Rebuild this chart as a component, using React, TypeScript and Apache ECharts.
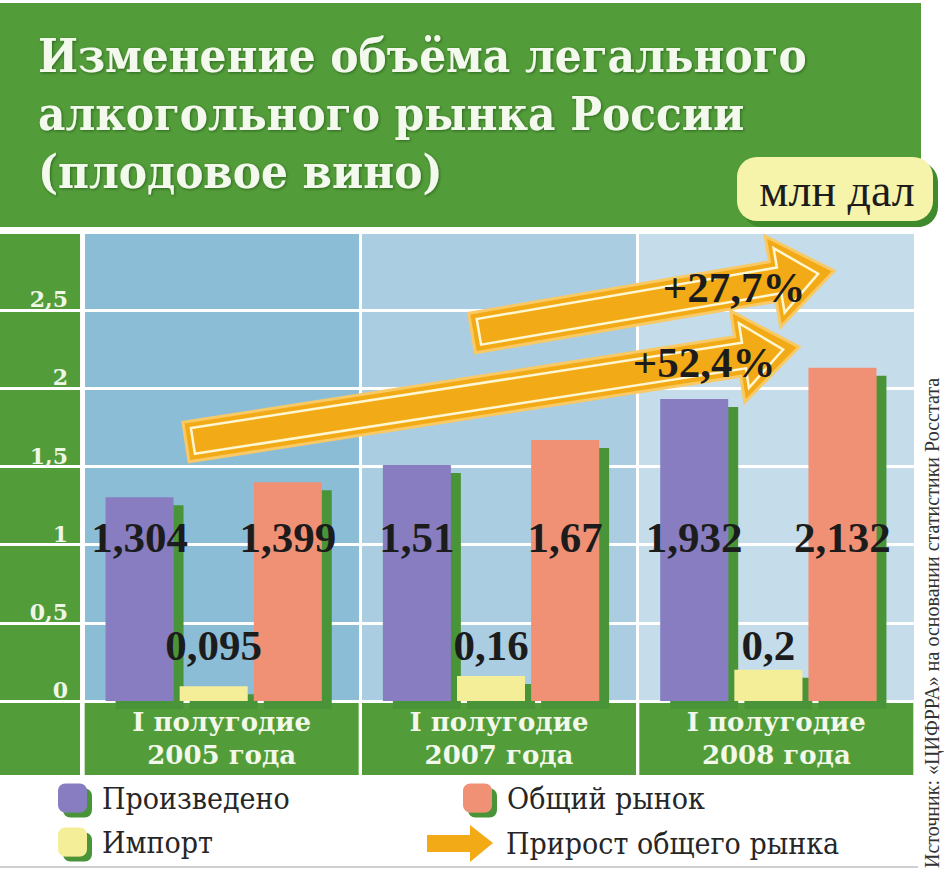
import React, { useEffect, useRef } from "react";
import * as echarts from "echarts";

const categories = ["I полугодие\n2005 года", "I полугодие\n2007 года", "I полугодие\n2008 года"];
const produced = [1.304, 1.51, 1.932];
const imported = [0.095, 0.16, 0.2];
const total = [1.399, 1.67, 2.132];
const growthLabels = ["+27,7%", "+52,4%"];
const seriesNames = ["Произведено", "Импорт", "Общий рынок", "Прирост общего рынка"];
const titleText = "Изменение объёма легального\nалкогольного рынка России\n(плодовое вино)";
const unitText = "млн дал";
const sourceText = "Источник: «ЦИФРРА» на основании статистики Росстата";

const GREEN = "#529d39";
const SHADOW_GREEN = "#4a9439";
const PURPLE = "#877dc0";
const YELLOW = "#f5ee98";
const ORANGE = "#f09176";
const ARROW = "#f2ab16";
const COND = "'DejaVu Serif Condensed', 'DejaVu Serif', serif";
const SERIF = "'DejaVu Serif', serif";
const TIMES = "'Liberation Serif', serif";

const fmt = (v: number) => String(v).replace(".", ",");

function arrowPts(tx: number, ty: number, px: number, py: number, sh: number, hh: number, hl: number, inset = 0) {
  const dx = px - tx, dy = py - ty;
  const L = Math.hypot(dx, dy);
  const ux = dx / L, uy = dy / L;
  const nx = -uy, ny = ux;
  const t0x = tx + ux * inset, t0y = ty + uy * inset;
  const bx = px - ux * hl + ux * inset * 0.9, by = py - uy * hl + uy * inset * 0.9;
  const tipx = px - ux * inset * 2.3, tipy = py - uy * inset * 2.3;
  const s = sh - inset, h = hh - inset * 1.9;
  return [
    [t0x + nx * s, t0y + ny * s],
    [bx + nx * s, by + ny * s],
    [bx + nx * h, by + ny * h],
    [tipx, tipy],
    [bx - nx * h, by - ny * h],
    [bx - nx * s, by - ny * s],
    [t0x - nx * s, t0y - ny * s],
  ];
}

function arrowElements(tx: number, ty: number, px: number, py: number) {
  return [
    {
      type: "polygon",
      z: 5,
      shape: { points: arrowPts(tx, ty, px, py, 20, 46, 62) },
      style: { fill: ARROW, stroke: "#f8c964", lineWidth: 3 },
    },
    {
      type: "polygon",
      z: 6,
      shape: { points: arrowPts(tx, ty, px, py, 20, 46, 62, 7) },
      style: { fill: "none", stroke: "#fff6d2", lineWidth: 2.5 },
    },
  ];
}

export default function App() {
  const ref = useRef<HTMLDivElement>(null);

  useEffect(() => {
    if (!ref.current) return;
    const chart = echarts.init(ref.current, null, { renderer: "svg" });

    const barLabel = (distance: number) => ({
      show: true,
      position: "insideBottom",
      distance,
      formatter: (p: any) => fmt(p.value),
      fontFamily: TIMES,
      fontWeight: "bold",
      fontSize: 43,
      color: "#1c1c1c",
      textBorderWidth: 0,
    });
    const barStyle = (color: string) => ({
      color,
      shadowColor: SHADOW_GREEN,
      shadowOffsetX: 10,
      shadowOffsetY: 8,
      shadowBlur: 0,
    });

    const legendText = { fontFamily: COND, fontSize: 30, color: "#262626", lineHeight: 29, padding: [0, 0, 0, 10] };
    const legendSquare = (left: number, top: number, name: string) => ({
      orient: "vertical",
      selectedMode: false,
      left,
      top,
      itemWidth: 29,
      itemHeight: 29,
      padding: 0,
      textStyle: legendText,
      itemStyle: { shadowColor: SHADOW_GREEN, shadowOffsetX: 5, shadowOffsetY: 5, shadowBlur: 0 },
      data: [name],
    });

    chart.setOption({
      animation: false,
      backgroundColor: "#ffffff",
      title: {
        text: titleText,
        left: 38,
        top: 26,
        padding: 0,
        textStyle: {
          fontFamily: COND,
          fontWeight: "bold",
          fontSize: 47,
          lineHeight: 58,
          color: "#f4f9ee",
          textShadowColor: "rgba(0,40,0,0.45)",
          textShadowBlur: 3,
          textShadowOffsetX: 1,
          textShadowOffsetY: 1,
        },
      },
      legend: [
        legendSquare(58, 783, seriesNames[0]),
        legendSquare(58, 827, seriesNames[1]),
        legendSquare(463, 783, seriesNames[2]),
        {
          orient: "vertical",
          selectedMode: false,
          left: 427,
          top: 825,
          itemWidth: 66,
          itemHeight: 37,
          padding: 0,
          textStyle: { ...legendText, lineHeight: 37, padding: [0, 0, 0, 8] },
          data: [
            {
              name: seriesNames[3],
              icon: "path://M0,10 L43,10 L43,0 L66,18 L43,37 L43,27 L0,27 Z",
              itemStyle: { color: ARROW, shadowBlur: 0, shadowOffsetX: 0, shadowOffsetY: 0 },
            },
          ],
        },
      ],
      grid: [
        { left: 0, right: 29, top: 232, bottom: 171 },
        { left: 83, right: 29, top: 232, bottom: 171 },
        { left: 75, right: 37, top: 232, bottom: 171 },
      ],
      xAxis: [
        { gridIndex: 0, type: "value", min: 0, max: 1, show: false },
        {
          gridIndex: 1,
          type: "category",
          data: categories,
          z: 0,
          axisLine: { show: false },
          axisTick: { show: false },
          splitArea: { show: true, interval: 0, areaStyle: { color: ["#8cbdd7", "#aacde1", "#c5ddeb"] } },
          splitLine: { show: true, interval: 0, lineStyle: { color: "#ffffff", width: 3 } },
          axisLabel: {
            interval: 0,
            margin: 2,
            fontFamily: SERIF,
            fontWeight: "bold",
            fontSize: 26,
            lineHeight: 33,
            color: "#f2f8ea",
            backgroundColor: GREEN,
            width: 274,
            align: "center",
            padding: [2, 0, 4, 0],
          },
        },
        { gridIndex: 2, type: "category", data: categories, show: false },
      ],
      yAxis: [
        {
          gridIndex: 0,
          type: "value",
          min: 0,
          max: 3,
          interval: 0.5,
          z: 1,
          axisLine: { show: false },
          axisTick: { show: false },
          axisLabel: { show: false },
          splitLine: { show: true, lineStyle: { color: "#ffffff", width: 3 } },
        },
        {
          gridIndex: 1,
          type: "value",
          min: 0,
          max: 3,
          interval: 0.5,
          z: 1,
          axisLine: { show: false },
          axisTick: { show: false },
          splitLine: { show: false },
          axisLabel: {
            margin: 15,
            showMaxLabel: false,
            verticalAlign: "bottom",
            formatter: (v: number) => fmt(v),
            fontFamily: SERIF,
            fontWeight: "bold",
            fontSize: 22,
            color: "#eef6e6",
          },
        },
        { gridIndex: 2, type: "value", min: 0, max: 3, show: false },
      ],
      series: [
        {
          name: seriesNames[0],
          type: "bar",
          xAxisIndex: 2,
          yAxisIndex: 2,
          data: produced,
          barWidth: 68,
          barGap: "9%",
          clip: true,
          itemStyle: barStyle(PURPLE),
          label: barLabel(142),
          emphasis: { disabled: true },
        },
        {
          name: seriesNames[1],
          type: "bar",
          xAxisIndex: 2,
          yAxisIndex: 2,
          data: imported,
          barWidth: 68,
          barGap: "9%",
          clip: true,
          itemStyle: barStyle(YELLOW),
          label: barLabel(34),
          emphasis: { disabled: true },
        },
        {
          name: seriesNames[2],
          type: "bar",
          xAxisIndex: 2,
          yAxisIndex: 2,
          data: total,
          barWidth: 68,
          barGap: "9%",
          clip: true,
          itemStyle: barStyle(ORANGE),
          label: barLabel(142),
          emphasis: { disabled: true },
        },
        {
          name: seriesNames[3],
          type: "line",
          xAxisIndex: 2,
          yAxisIndex: 2,
          data: [],
          itemStyle: { color: ARROW },
          lineStyle: { color: ARROW },
        },
      ],
      graphic: [
        { type: "rect", z: -1, shape: { x: 0, y: 3, width: 921, height: 224 }, style: { fill: GREEN } },
        { type: "rect", z: -1, shape: { x: 0, y: 232, width: 80, height: 543 }, style: { fill: GREEN } },
        { type: "rect", z: 1, shape: { x: 742, y: 162, width: 196, height: 65, r: 20 }, style: { fill: "#3f8a2c" } },
        { type: "rect", z: 1, shape: { x: 737, y: 157, width: 196, height: 64, r: 20 }, style: { fill: "#f6f3aa" } },
        {
          type: "text",
          z: 2,
          x: 837,
          y: 190,
          style: { text: unitText, fontFamily: TIMES, fontSize: 46, fill: "#1c1c1c", align: "center", verticalAlign: "middle" },
        },
        ...arrowElements(472, 333, 834, 271),
        ...arrowElements(186, 442, 799, 347),
        {
          type: "text",
          z: 7,
          x: 734,
          y: 287,
          style: { text: growthLabels[0], fontFamily: TIMES, fontWeight: "bold", fontSize: 43, fill: "#1c1c1c", align: "center", verticalAlign: "middle" },
        },
        {
          type: "text",
          z: 7,
          x: 704,
          y: 362,
          style: { text: growthLabels[1], fontFamily: TIMES, fontWeight: "bold", fontSize: 43, fill: "#1c1c1c", align: "center", verticalAlign: "middle" },
        },
        { type: "line", z: 1, shape: { x1: 0, y1: 867, x2: 918, y2: 867 }, style: { stroke: "#cfcfcf", lineWidth: 2 } },
        {
          type: "text",
          z: 1,
          x: 932,
          y: 868,
          rotation: Math.PI / 2,
          style: { text: sourceText, fontFamily: TIMES, fontSize: 20, fill: "#333333", align: "left", verticalAlign: "middle" },
        },
      ],
    });

    return () => chart.dispose();
  }, []);

  return <div ref={ref} style={{ position: "absolute", left: 0, top: 0, width: 944, height: 872 }} />;
}
